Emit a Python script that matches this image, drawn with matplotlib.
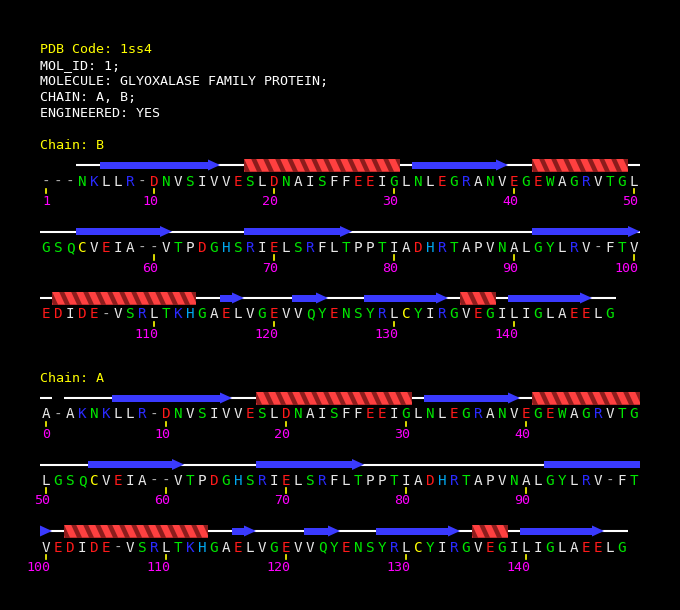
import matplotlib
matplotlib.use("Agg")
import matplotlib.pyplot as plt
from matplotlib.patches import Polygon, Rectangle

# ---- data -------------------------------------------------------------
header_lines = ["PDB Code: 1ss4", "MOL_ID: 1;",
                "MOLECULE: GLYOXALASE FAMILY PROTEIN;",
                "CHAIN: A, B;", "ENGINEERED: YES"]

chain_b_seq = ("---NKLLR-DNVSIVVESLDNAISFFEEIGLNLEGRANVEGEWAGRVTGL"
               "GSQCVEIA--VTPDGHSRIELSRFLTPPTIADHRTAPVNALGYLRV-FTV"
               "EDIDE-VSRLTKHGAELVGEVVQYENSYRLCYIRGVEGILIGLAEELG")
chain_b_first = 1
chain_b_strands = [(6, 15), (32, 39), (54, 61), (68, 76), (92, 100),
                   (116, 117), (122, 124), (128, 134), (140, 146)]
chain_b_helices = [(18, 30), (42, 49), (102, 113), (136, 138)]
chain_b_nocoil = [1, 2, 3]

chain_a_seq = ("A-AKNKLLR-DNVSIVVESLDNAISFFEEIGLNLEGRANVEGEWAGRVTG"
               "LGSQCVEIA--VTPDGHSRIELSRFLTPPTIADHRTAPVNALGYLRV-FT"
               "VEDIDE-VSRLTKHGAELVGEVVQYENSYRLCYIRGVEGILIGLAEELG")
chain_a_first = 0
chain_a_strands = [(6, 15), (32, 39), (54, 61), (68, 76), (92, 100),
                   (116, 117), (122, 124), (128, 134), (140, 146)]
chain_a_helices = [(18, 30), (41, 49), (102, 113), (136, 138)]
chain_a_nocoil = [1]

# residue colouring
aa_colors = {}
for c in "DE":
    aa_colors[c] = "#ff1a1a"
for c in "KR":
    aa_colors[c] = "#2a2aff"
for c in "NQSTGYW":
    aa_colors[c] = "#00e600"
aa_colors["H"] = "#00a8f0"
aa_colors["C"] = "#ffff00"

# ---- layout -----------------------------------------------------------
PER_ROW = 50
X0 = 40          # left edge of first residue cell
CELL = 12
ROW_PITCH = 66.5
MONO = "DejaVu Sans Mono"
YELLOW = "#ffff00"
MAGENTA = "#ff00ff"
STRAND = "#3a3aff"
HELIX_LIGHT = "#ff4040"
HELIX_DARK = "#8c1c1c"

fig = plt.figure(figsize=(6.8, 6.1), dpi=100, facecolor="black")
ax = fig.add_axes([0, 0, 1, 1])
ax.set_xlim(0, 680)
ax.set_ylim(610, 0)
ax.set_facecolor("black")
ax.axis("off")

for i, line in enumerate(header_lines):
    ax.text(40, 53 + 16 * i, line, color=YELLOW if i == 0 else "white",
            family=MONO, fontsize=9.6, va="baseline", ha="left")


def draw_helix(xl, xr, ys):
    top, bot = ys - 6.5, ys + 6.5
    bg = Rectangle((xl, top), xr - xl, bot - top, color=HELIX_DARK, lw=0, zorder=3)
    ax.add_patch(bg)
    clip = Rectangle((xl, top), xr - xl, bot - top, transform=ax.transData)
    n = int(round((xr - xl) / CELL))
    for j in range(-1, n + 1):
        x = xl + j * CELL
        front = Polygon([(x, top), (x + 7, top), (x + 13, bot), (x + 6, bot)],
                        closed=True, color=HELIX_LIGHT, lw=0, zorder=4)
        ax.add_patch(front)
        front.set_clip_path(clip)


def draw_strand(xl, xr, ys, head):
    if head:
        hx = max(xl, xr - 12)
        if hx > xl:
            ax.add_patch(Rectangle((xl, ys - 3.5), hx - xl, 7, color=STRAND,
                                   lw=0, zorder=3))
        ax.add_patch(Polygon([(hx, ys - 5.5), (xr, ys), (hx, ys + 5.5)],
                             closed=True, color=STRAND, lw=0, zorder=3))
    else:
        ax.add_patch(Rectangle((xl, ys - 3.5), xr - xl, 7, color=STRAND,
                               lw=0, zorder=3))


def draw_chain(name, seq, first, strands, helices, nocoil, label_y):
    ax.text(40, label_y + 5, "Chain: " + name, color=YELLOW, family=MONO,
            fontsize=9.6, va="baseline", ha="left")
    base_y = label_y + 36
    nrows = (len(seq) + PER_ROW - 1) // PER_ROW
    for r in range(nrows):
        yl = base_y + r * ROW_PITCH      # letter centre
        ys = yl - 15                     # secondary structure line
        lo = first + r * PER_ROW
        hi = min(first + len(seq), lo + PER_ROW) - 1

        def xleft(res):
            return X0 + (res - lo) * CELL

        # coil
        for res in range(lo, hi + 1):
            if res not in nocoil:
                ax.plot([xleft(res), xleft(res) + CELL], [ys, ys],
                        color="white", lw=1.5, solid_capstyle="butt", zorder=1)
        # strands
        for s, e in strands:
            a, b = max(s, lo), min(e, hi)
            if a <= b:
                draw_strand(xleft(a), xleft(b) + CELL, ys, e <= hi)
        # helices
        for s, e in helices:
            a, b = max(s, lo), min(e, hi)
            if a <= b:
                draw_helix(xleft(a), xleft(b) + CELL, ys)
        # residues, ticks, numbers
        for res in range(lo, hi + 1):
            ch = seq[res - first]
            xc = xleft(res) + CELL / 2
            col = "#b0b0b0" if ch == "-" else aa_colors.get(ch, "#e8e8e8")
            ax.text(xc, yl + 5.5, ch, color=col, family=MONO, fontsize=10.3,
                    ha="center", va="baseline")
            if res % 10 == 0 or res == first:
                ax.plot([xc, xc], [yl + 8.5, yl + 13], color=YELLOW, lw=1.2)
                lab = str(res)
                ax.text(xc - 4 * len(lab) + 4, yl + 25, lab, color=MAGENTA,
                        family=MONO, fontsize=9.6, ha="center", va="baseline")


draw_chain("B", chain_b_seq, chain_b_first, chain_b_strands, chain_b_helices,
           chain_b_nocoil, 144)
draw_chain("A", chain_a_seq, chain_a_first, chain_a_strands, chain_a_helices,
           chain_a_nocoil, 377)

fig.savefig("out.png", dpi=100, facecolor="black")
